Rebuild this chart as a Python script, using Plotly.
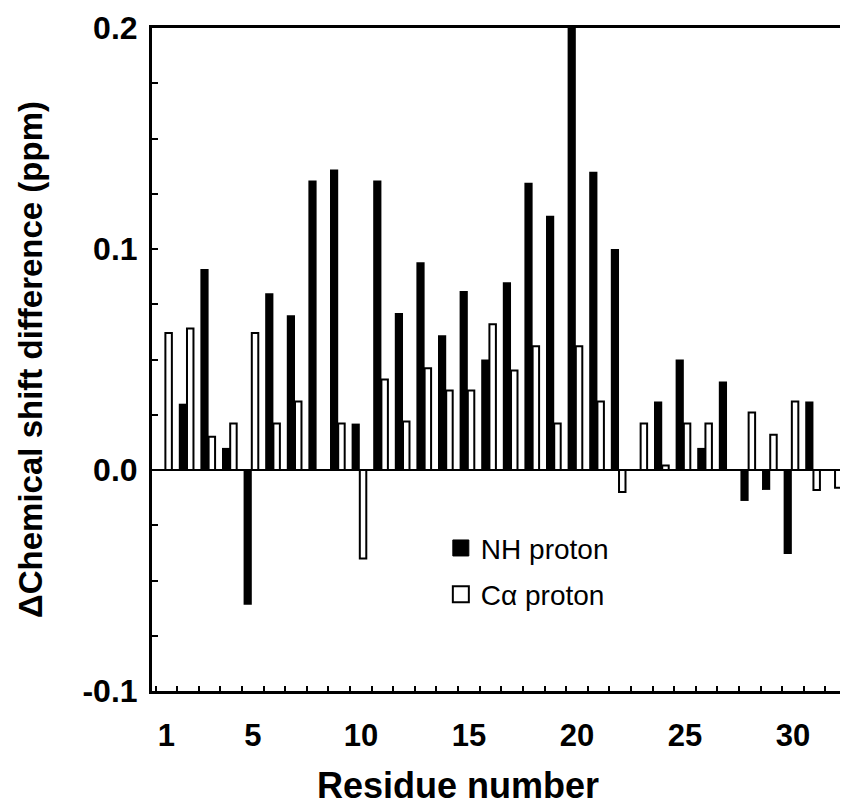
import plotly.graph_objects as go

residues = list(range(1, 33))
nh_shift = [None, 0.030, 0.091, 0.010, -0.061, 0.080, 0.070, 0.131, 0.136, 0.021,
            0.131, 0.071, 0.094, 0.061, 0.081, 0.050, 0.085, 0.130, 0.115, 0.205,
            0.135, 0.100, None, 0.031, 0.050, 0.010, 0.040, -0.014, -0.009, -0.038,
            0.031, None]
ca_shift = [0.062, 0.064, 0.015, 0.021, 0.062, 0.021, 0.031, None, 0.021, -0.040,
            0.041, 0.022, 0.046, 0.036, 0.036, 0.066, 0.045, 0.056, 0.021, 0.056,
            0.031, -0.010, 0.021, 0.002, 0.021, 0.021, None, 0.026, 0.016, 0.031,
            -0.009, -0.008]

x_tick_vals = [1, 5, 10, 15, 20, 25, 30]
x_tick_text = ["1", "5", "10", "15", "20", "25", "30"]
y_tick_vals = [-0.1, -0.075, -0.05, -0.025, 0.0, 0.025, 0.05, 0.075, 0.1, 0.125, 0.15, 0.175, 0.2]
y_tick_text = ["-0.1", "", "", "", "0.0", "", "", "", "0.1", "", "", "", "0.2"]

FONT = "Liberation Sans, Arial, Helvetica, sans-serif"

fig = go.Figure()
fig.add_trace(go.Bar(
    x=residues, y=nh_shift, name="NH proton", showlegend=False,
    width=0.38, offset=-0.43,
    marker=dict(color="black", line=dict(color="black", width=0)),
))
fig.add_trace(go.Bar(
    x=residues, y=ca_shift, name="Cα proton", showlegend=False,
    width=0.30, offset=-0.05,
    marker=dict(color="white", line=dict(color="black", width=2)),
))
# legend entries
fig.add_trace(go.Scatter(
    x=[None], y=[None], mode="markers", name="NH proton", legendgroup="a",
    marker=dict(symbol="square", size=16, color="black", line=dict(color="black", width=1)),
))
fig.add_trace(go.Scatter(
    x=[None], y=[None], mode="markers", name="Cα proton", legendgroup="b",
    marker=dict(symbol="square", size=16, color="white", line=dict(color="black", width=2)),
))

fig.update_layout(
    width=840, height=801,
    margin=dict(l=144, r=0, t=20, b=118),
    paper_bgcolor="white", plot_bgcolor="white",
    barmode="overlay",
    showlegend=True,
    legend=dict(
        x=0.415, y=0.253, xanchor="left", yanchor="top",
        bgcolor="rgba(0,0,0,0)",
        font=dict(family=FONT, size=28, color="black"),
        tracegroupgap=7, traceorder="grouped",
    ),
    font=dict(family=FONT, color="black"),
    annotations=[dict(
        text="Residue number", xref="paper", yref="paper",
        x=0.44, y=-0.142, xanchor="center", yanchor="middle", showarrow=False,
        font=dict(family=FONT, size=36, color="black", weight="bold"),
    )],
)

fig.update_xaxes(
    range=[0.33, 32.55], automargin=False,
    showgrid=False, zeroline=False,
    showline=True, linecolor="black", linewidth=3, mirror=True,
    tickmode="array", tickvals=x_tick_vals, ticktext=x_tick_text,
    ticks="", ticklabelstandoff=15, ticklabeloverflow="allow",
    tickfont=dict(family=FONT, size=31, color="black", weight="bold"),
    minor=dict(tickmode="linear", tick0=0.5, dtick=1, ticks="inside",
               ticklen=5, tickwidth=2, tickcolor="black", showgrid=False),
)
fig.update_yaxes(
    range=[-0.1, 0.2], automargin=False,
    showgrid=False,
    zeroline=True, zerolinecolor="black", zerolinewidth=2,
    showline=True, linecolor="black", linewidth=3, mirror=False,
    tickmode="array", tickvals=y_tick_vals, ticktext=y_tick_text,
    ticks="inside", ticklen=6, tickwidth=2, tickcolor="black",
    ticklabelstandoff=5, ticklabeloverflow="allow",
    tickfont=dict(family=FONT, size=32, color="black", weight="bold"),
    title=dict(text="ΔChemical shift difference (ppm)",
               font=dict(family=FONT, size=33, color="black", weight="bold"),
               standoff=30),
)

fig.write_html("out.html")
